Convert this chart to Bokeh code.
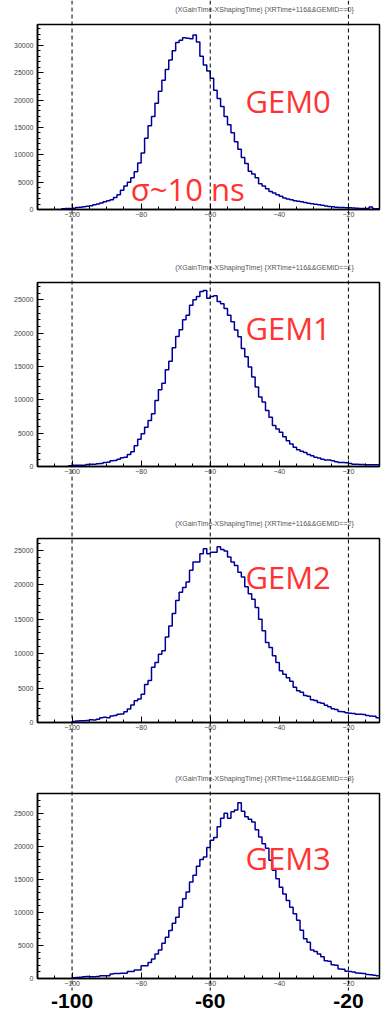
from bokeh.plotting import figure
from bokeh.models import Range1d, SingleIntervalTicker
from bokeh.layouts import column
from bokeh.embed import file_html
from bokeh.resources import INLINE
from bokeh.core.properties import value

# Time axis shared by all four GEM panels (ns)
X_MIN, X_MAX = -110, -11
BIN_W = 1

# Time difference histograms, one bin per ns, starting at the given edge
gem0_start = -103
gem0_counts = [
    150, 200, 200, 250, 350, 400, 500, 600, 700, 850,
    1000, 1200, 1400, 1600, 1800, 2200, 2700, 3500, 4300, 5000,
    5800, 6900, 8500, 10300, 13000, 15300, 17000, 19400, 21600, 23600,
    25600, 27300, 29000, 30500, 30900, 31400, 31300, 31200, 31900, 30600,
    28000, 26400, 25300, 24000, 21800, 20300, 18800, 17000, 15500, 14000,
    12400, 11000, 9500, 8400, 7000, 6500, 5800, 4700, 4300, 3800,
    3300, 3000, 2700, 2400, 2100, 1900, 1800, 1600, 1500, 1400,
    1300, 1150, 1050, 950, 850, 780, 650, 550, 500, 430,
    380, 360, 330, 300, 280, 250, 200, 180, 170, 450,
    150, 120,
]

gem1_start = -101
gem1_counts = [
    100, 200, 200, 200, 200, 300, 350, 350, 400, 450,
    600, 650, 850, 900, 1100, 1300, 1400, 1800, 2200, 3100,
    4100, 4900, 5900, 6900, 7900, 9900, 11500, 12500, 14500, 15800,
    17800, 19500, 20500, 22000, 22700, 24200, 25000, 25500, 26250, 26400,
    25250, 25500, 25600, 24750, 24400, 23700, 22700, 21700, 20470, 19470,
    17700, 16450, 14940, 13430, 11920, 10410, 9660, 8400, 7400, 6140,
    5630, 5130, 4480, 3870, 3370, 2870, 2500, 2300, 2110, 1800,
    1610, 1400, 1260, 1100, 960, 960, 850, 700, 600, 600,
    550, 450, 350, 350, 300, 300, 250, 250, 250, 250,
]

gem2_start = -100
gem2_counts = [
    150, 200, 250, 250, 300, 400, 380, 480, 700, 750,
    700, 950, 1000, 1200, 1250, 1550, 1950, 2550, 3150, 3400,
    4100, 5500, 6100, 8000, 8700, 9900, 10400, 12400, 14000, 15800,
    17700, 18900, 19600, 20400, 22100, 23300, 23300, 24500, 25200, 24500,
    24700, 24700, 25500, 25100, 24900, 24000, 23300, 22800, 21800, 21100,
    19700, 18700, 17900, 16700, 15000, 13300, 11600, 10900, 9700, 8700,
    7500, 7000, 6500, 6000, 5100, 4600, 4400, 3900, 3800, 3300,
    3200, 2900, 2800, 2500, 2300, 2000, 1900, 1600, 1550, 1400,
    1350, 1300, 1200, 1200, 1150, 1000, 950, 900, 700,
]

gem3_start = -100
gem3_counts = [
    100, 150, 200, 250, 300, 250, 250, 300, 400, 400,
    400, 700, 760, 760, 810, 810, 1060, 1060, 1270, 1270,
    1930, 1930, 2430, 2940, 3700, 4300, 5320, 6240, 7250, 8370,
    9280, 10800, 12070, 13080, 14600, 15620, 16990, 18000, 18400, 19830,
    20940, 21350, 22970, 24240, 25000, 24240, 25250, 25500, 26600, 25300,
    24500, 24100, 23700, 22500, 21400, 20400, 19700, 17900, 16400, 15100,
    13800, 12800, 11800, 10800, 9800, 8800, 7300, 6000, 5500, 4300,
    4100, 3700, 3300, 2700, 2600, 2100, 2000, 1450, 1400, 1100,
    1050, 1000, 850, 800, 750, 600, 550, 500, 400,
]

gem_ids = [0, 1, 2, 3]
gem_labels = ["GEM0", "GEM1", "GEM2", "GEM3"]
y_max = [33800, 27600, 26700, 28000]
sigma_label = "σ~10 ns"
marker_times = [-100, -60, -20]
marker_labels = ["-100", "-60", "-20"]

# Panel canvas heights and bottom borders (px); each frame starts 24 px below its canvas top
panel_heights = [258, 256, 255, 259]
panel_bottoms = [49, 48, 47, 50]

HIST_COLOR = "#000099"
LABEL_RED = "#ff3333"


def make_panel(start, counts, ymax, height, border_bottom):
    p = figure(width=381, height=height,
               x_range=Range1d(X_MIN, X_MAX), y_range=Range1d(0, ymax),
               output_backend="svg", toolbar_location=None,
               min_border_left=37, min_border_right=2,
               min_border_top=24, min_border_bottom=border_bottom)
    p.xgrid.visible = False
    p.ygrid.visible = False
    p.background_fill_color = "white"
    p.border_fill_color = "white"
    p.outline_line_color = "black"
    p.outline_line_width = 1.5

    edges = [start + i * BIN_W for i in range(len(counts) + 1)]
    xs = [edges[0]] + edges
    ys = [0] + list(counts) + [counts[-1]]
    p.step(xs, ys, mode="after", line_color=HIST_COLOR, line_width=1.5)

    xa = p.xaxis[0]
    xa.ticker = SingleIntervalTicker(interval=20, num_minor_ticks=4)
    ya = p.yaxis[0]
    ya.ticker = SingleIntervalTicker(interval=5000, num_minor_ticks=5)
    for ax in (xa, ya):
        ax.major_tick_in = 6
        ax.major_tick_out = 0
        ax.minor_tick_in = 3
        ax.minor_tick_out = 0
        ax.axis_line_width = 1.5
        ax.major_tick_line_width = 1
        ax.minor_tick_line_width = 1
        ax.major_label_text_font = "Liberation Sans"
        ax.major_label_text_font_size = "7px"
        ax.major_label_text_color = "#444444"
    xa.major_label_standoff = 2
    ya.major_label_standoff = 4
    return p


starts = [gem0_start, gem1_start, gem2_start, gem3_start]
all_counts = [gem0_counts, gem1_counts, gem2_counts, gem3_counts]
panels = [make_panel(s, c, m, h, b)
          for s, c, m, h, b in zip(starts, all_counts, y_max, panel_heights, panel_bottoms)]

# Full-height layer on top of the panels: marker lines, titles and labels.
# Its y coordinate runs down the page in pixels.
PAGE_H = sum(panel_heights)
over = figure(width=381, height=PAGE_H,
              x_range=Range1d(X_MIN, X_MAX), y_range=Range1d(PAGE_H, 0),
              output_backend="svg", toolbar_location=None,
              x_axis_location=None, y_axis_location=None,
              min_border_left=37, min_border_right=2,
              min_border_top=0, min_border_bottom=0)
over.xgrid.visible = False
over.ygrid.visible = False
over.background_fill_alpha = 0
over.border_fill_alpha = 0
over.outline_line_color = None
over.styles = {"position": "absolute", "top": "0px", "left": "0px", "z-index": "10"}

over.segment(x0=marker_times, y0=[0] * 3, x1=marker_times, y1=[990] * 3,
             line_color="black", line_width=1, line_dash="4 3")
over.text(x=marker_times, y=[1000] * 3, text=marker_labels,
          text_font=value("Liberation Sans"), text_font_style="bold",
          text_font_size="21px", text_color="black",
          text_align="center", text_baseline="middle")

frame_tops = []
acc = 0
for h in panel_heights:
    frame_tops.append(acc + 24)
    acc += h

titles = ["(XGainTime-XShapingTime) {XRTime+116&&GEMID==%d}" % g for g in gem_ids]
over.text(x=[-44.3] * 4, y=[t - 15 for t in frame_tops], text=titles,
          text_font=value("Liberation Sans"), text_font_size="7px",
          text_color="#555555", text_align="center", text_baseline="middle")

over.text(x=[-49.8] * 4, y=[100, 327, 576, 857], text=gem_labels,
          text_font=value("Open Sans"), text_font_size="31px",
          text_color=LABEL_RED, text_align="left", text_baseline="alphabetic")
over.text(x=[-83.0], y=[188], text=[sigma_label],
          text_font=value("Open Sans"), text_font_size="31px",
          text_color=LABEL_RED, text_align="left", text_baseline="alphabetic")

layout = column(*panels, over)

open("out.html", "w").write(file_html(layout, INLINE))
